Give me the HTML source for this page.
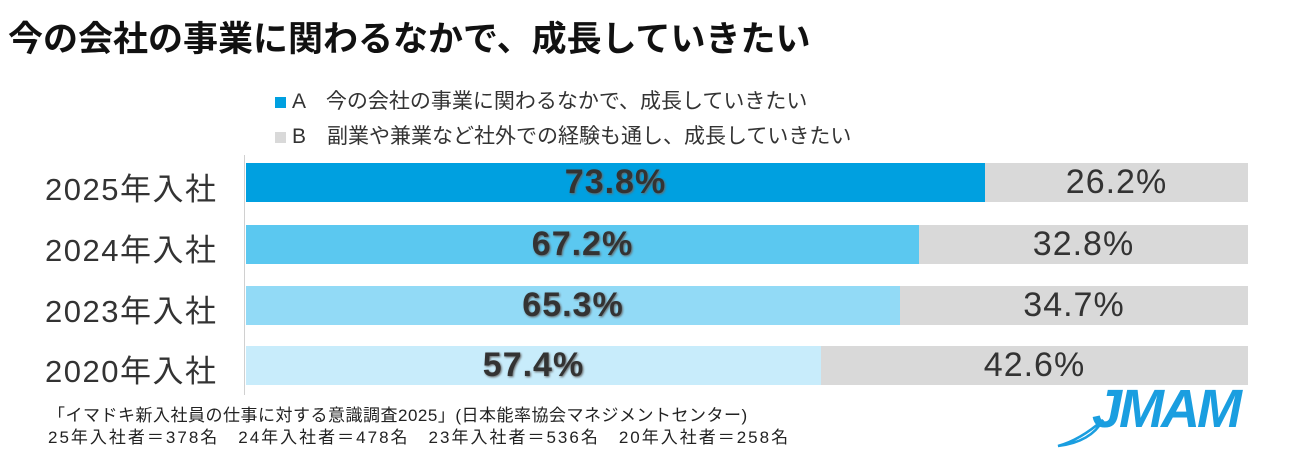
<!DOCTYPE html>
<html><head><meta charset="utf-8"><style>
body{margin:0;width:1300px;height:453px;background:#fff;position:relative;overflow:hidden;font-family:"Liberation Sans","Noto Sans CJK JP",sans-serif;color:#333}
.a{position:absolute;white-space:nowrap}
.bar{position:absolute;left:246px;height:39px;width:1002px;background:#d9d9d9}
.bar div{position:absolute;top:0;left:0;height:100%}
.pl{position:absolute;top:0;height:39px;line-height:39px;font-size:34px;text-align:center;letter-spacing:1px}
.lab{position:absolute;left:45px;font-size:31px;color:#333;letter-spacing:1.5px}
</style></head><body>
<div class="a" style="left:8px;top:11px;font-size:35px;font-weight:bold;color:#111;letter-spacing:0px">今の会社の事業に関わるなかで、成長していきたい</div>
<div class="a" style="left:275px;top:85px;font-size:21px;letter-spacing:0px"><span style="display:inline-block;width:11px;height:11px;background:#00a0e0;margin-right:6px"></span>A　今の会社の事業に関わるなかで、成長していきたい</div>
<div class="a" style="left:275px;top:120px;font-size:21px;letter-spacing:0px"><span style="display:inline-block;width:11px;height:11px;background:#d9d9d9;margin-right:6px"></span>B　副業や兼業など社外での経験も通し、成長していきたい</div>
<div class="a" style="left:244px;top:155px;width:1px;height:240px;background:#d0d0d0"></div>

<div class="lab" style="top:164px">2025年入社</div>
<div class="bar" style="top:163px"><div style="width:739px;background:#00a0e0"></div>
<span class="pl" style="left:0;width:739px;font-weight:bold;text-shadow:1px 1px 2px #666">73.8%</span><span class="pl" style="left:739px;width:263px">26.2%</span></div>

<div class="lab" style="top:225px">2024年入社</div>
<div class="bar" style="top:225px"><div style="width:673px;background:#5bc8f0"></div>
<span class="pl" style="left:0;width:673px;font-weight:bold;text-shadow:1px 1px 2px #666">67.2%</span><span class="pl" style="left:673px;width:329px">32.8%</span></div>

<div class="lab" style="top:286px">2023年入社</div>
<div class="bar" style="top:286px"><div style="width:654px;background:#92daf6"></div>
<span class="pl" style="left:0;width:654px;font-weight:bold;text-shadow:1px 1px 2px #666">65.3%</span><span class="pl" style="left:654px;width:348px">34.7%</span></div>

<div class="lab" style="top:346px">2020年入社</div>
<div class="bar" style="top:346px"><div style="width:575px;background:#c8ecfb"></div>
<span class="pl" style="left:0;width:575px;font-weight:bold;text-shadow:1px 1px 2px #666">57.4%</span><span class="pl" style="left:575px;width:427px">42.6%</span></div>

<div class="a" style="left:48px;top:401px;font-size:17px;color:#222;letter-spacing:0.5px">「イマドキ新入社員の仕事に対する意識調査2025」(日本能率協会マネジメントセンター)</div>
<div class="a" style="left:48px;top:423px;font-size:17px;color:#222;letter-spacing:2px">25年入社者＝378名　24年入社者＝478名　23年入社者＝536名　20年入社者＝258名</div>
<div class="a" style="left:1092px;top:378px;font-size:54px;font-weight:bold;font-style:italic;color:#1a9ee0;letter-spacing:-3px">JMAM</div>
<svg class="a" style="left:1055px;top:418px" width="60" height="32"><path d="M3 28 Q25 22 48 2 Q36 24 3 28Z" fill="none" stroke="#1a9ee0" stroke-width="2.5"/></svg>
</body></html>
